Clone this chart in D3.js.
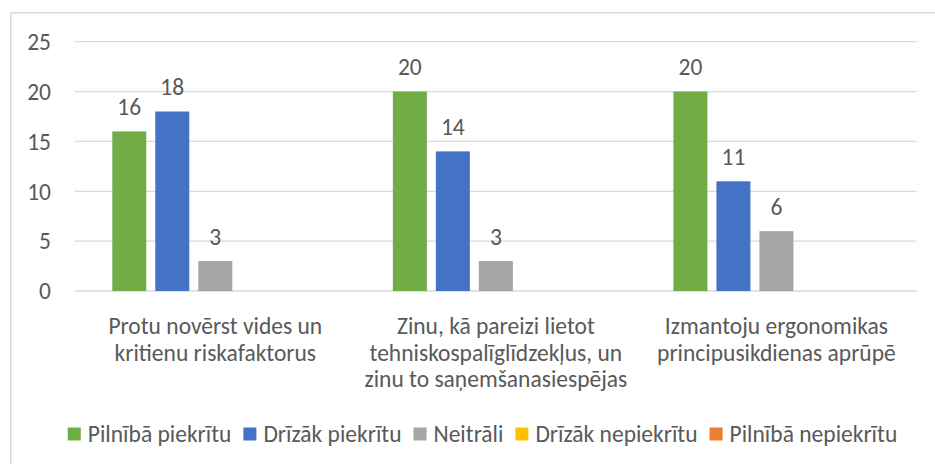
<!DOCTYPE html>
<html><head><meta charset="utf-8">
<script src="https://cdn.jsdelivr.net/npm/d3@7/dist/d3.min.js"></script>
<style>
html,body{margin:0;padding:0;background:#fff;}
svg{display:block;font-family:Carlito,Calibri,Lato,"Open Sans",sans-serif;}
</style></head>
<body><svg id="c" width="935" height="464"></svg>
<script>
const categories = [
  ["Protu novērst vides un", "kritienu riskafaktorus"],
  ["Zinu, kā pareizi lietot", "tehniskospalīglīdzekļus, un", "zinu to saņemšanasiespējas"],
  ["Izmantoju ergonomikas", "principusikdienas aprūpē"]
];
const seriesNames = ["Pilnībā piekrītu", "Drīzāk piekrītu", "Neitrāli", "Drīzāk nepiekrītu", "Pilnībā nepiekrītu"];
const seriesColors = ["#70AD47", "#4472C4", "#A5A5A5", "#FFC000", "#ED7D31"];
const pilnibaPiekritu = [16, 20, 20];
const drizakPiekritu = [18, 14, 11];
const neitrali = [3, 3, 6];
const drizakNepiekritu = [null, null, null];
const pilnibaNepiekritu = [null, null, null];
const yTicks = [0, 5, 10, 15, 20, 25];

const seriesValues = [pilnibaPiekritu, drizakPiekritu, neitrali, drizakNepiekritu, pilnibaNepiekritu];
const catKeys = categories.map((c, i) => i);

const svg = d3.select("#c");
const textColor = "#595959";
const fs = 23.5;

// chart border
svg.append("path").attr("d", "M10.75,470 V12.75 H940")
  .attr("fill", "none").attr("stroke", "#d9d9d9").attr("stroke-width", 1.5);

const plotL = 75, plotR = 916.7, plotT = 41.7, plotB = 291;
const y = d3.scaleLinear().domain([0, 25]).range([plotB, plotT]);
const x0 = d3.scaleBand().domain(catKeys).range([plotL, plotR]).padding(0);
const groupW = 206;
const x1 = d3.scaleBand().domain(d3.range(seriesNames.length)).range([0, groupW]).paddingInner(9 / 43).paddingOuter(0);
const groupOff = (x0.bandwidth() - groupW) / 2;

// gridlines
svg.append("g").selectAll("line").data(yTicks).join("line")
  .attr("x1", plotL).attr("x2", plotR)
  .attr("y1", d => y(d)).attr("y2", d => y(d))
  .attr("stroke", "#d9d9d9").attr("stroke-width", 1.3);

// y axis labels
svg.append("g").selectAll("text").data(yTicks).join("text")
  .attr("x", 51).attr("y", d => y(d)).attr("dy", "0.35em")
  .attr("text-anchor", "end").attr("fill", textColor).attr("font-size", fs)
  .text(d => d);

// bars
const bars = [];
seriesValues.forEach((vals, s) => vals.forEach((v, c) => { if (v != null) bars.push({ s, c, v }); }));
svg.append("g").selectAll("rect").data(bars).join("rect")
  .attr("x", d => x0(d.c) + groupOff + x1(d.s))
  .attr("width", x1.bandwidth())
  .attr("y", d => y(d.v))
  .attr("height", d => y(0) - y(d.v))
  .attr("fill", d => seriesColors[d.s]);

// value labels
svg.append("g").selectAll("text").data(bars).join("text")
  .attr("x", d => x0(d.c) + groupOff + x1(d.s) + x1.bandwidth() / 2)
  .attr("y", d => y(d.v) - 16.5)
  .attr("text-anchor", "middle").attr("fill", textColor).attr("font-size", fs)
  .text(d => d.v);

// category labels
const cg = svg.append("g").selectAll("text").data(categories).join("text")
  .attr("x", (d, i) => x0(i) + x0.bandwidth() / 2)
  .attr("text-anchor", "middle").attr("fill", textColor).attr("font-size", fs);
cg.selectAll("tspan").data(d => d).join("tspan")
  .attr("x", function () { return d3.select(this.parentNode).attr("x"); })
  .attr("y", (d, i) => 334 + i * 26.5)
  .text(d => d);

// legend
const lg = svg.append("g");
const items = lg.selectAll("g").data(seriesNames).join("g");
items.append("rect").attr("width", 13).attr("height", 13).attr("y", 427.5)
  .attr("fill", (d, i) => seriesColors[i]);
items.append("text").attr("x", 20).attr("y", 442)
  .attr("fill", textColor).attr("font-size", fs).text(d => d);
let cx = 0;
const pos = [];
items.each(function () {
  pos.push(cx);
  const w = d3.select(this).select("text").node().getComputedTextLength();
  cx += 20 + w + 12;
});
const totalW = cx - 12;
const startX = 482.5 - totalW / 2;
items.attr("transform", (d, i) => `translate(${startX + pos[i]},0)`);
</script>
</body></html>
